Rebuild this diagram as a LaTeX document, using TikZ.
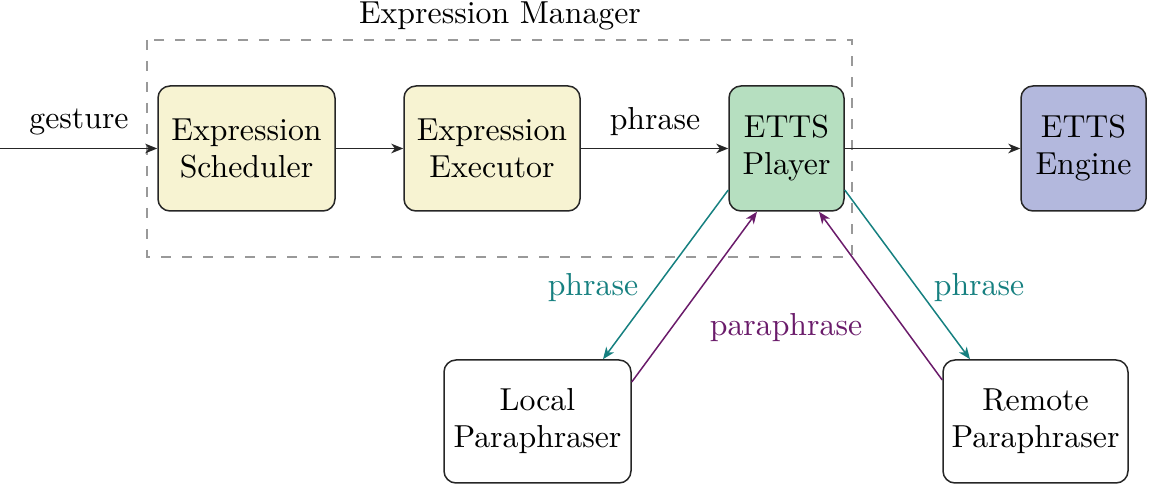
\documentclass[tikz,border=0pt]{standalone}
\usepackage{fontspec}
\setmainfont{lmroman10-regular.otf}
\usetikzlibrary{arrows.meta}
\definecolor{boxyellow}{HTML}{F7F3D2}
\definecolor{boxgreen}{HTML}{B6DFC0}
\definecolor{boxblue}{HTML}{B3B8DD}
\definecolor{tealc}{HTML}{168080}
\definecolor{purplec}{HTML}{6A1B6A}
\definecolor{dashgray}{HTML}{999999}
\tikzset{
  blk/.style={draw=black!85, line width=0.75pt, rounded corners=6pt, align=center, inner sep=0pt, minimum height=62.5pt},
  arr/.style={-{Stealth[length=6pt,width=4.8pt,inset=1.8pt]}, line width=0.75pt, draw=black!85},
  lbl/.style={inner sep=0pt},
}
\begin{document}
\begin{tikzpicture}[x=0.5pt,y=-0.5pt,font=\fontsize{15.9}{18.5}\selectfont]
\useasboundingbox (0,0) rectangle (1152,485);
\draw[dashgray, line width=0.6pt, dash pattern=on 5pt off 5.5pt] (147,40) rectangle (852,257);
\node[lbl, anchor=base] (mgr) at (500,23.5) {Expression Manager};

\node[blk, fill=boxyellow, minimum width=88.5pt] (sched) at (246.5,148.5) {Expression\\Scheduler};
\node[blk, fill=boxyellow, minimum width=88pt] (exec) at (492,148.5) {Expression\\Executor};
\node[blk, fill=boxgreen, minimum width=57.5pt] (player) at (786.5,148.5) {ETTS\\Player};
\node[blk, fill=boxblue, minimum width=62.5pt] (engine) at (1083.5,148.5) {ETTS\\Engine};
\node[blk, fill=white, minimum width=93.5pt, minimum height=61.5pt] (local) at (537.5,421.5) {Local\\Paraphraser};
\node[blk, fill=white, minimum width=92.5pt, minimum height=61.5pt] (remote) at (1035.5,421.5) {Remote\\Paraphraser};

\coordinate (in) at (0,148.5);
\draw[arr] (in) -- (sched.west);
\node[lbl] (gesture) at (79,122) {gesture};
\draw[arr] (sched.east) -- (exec.west);
\draw[arr] (exec.east) -- (player.west);
\node[lbl] (phr1) at (655,122) {phrase};
\draw[arr] (player.east) -- (engine.west);

\draw[arr, draw=tealc] ([yshift=-20.75pt]player.west) -- ([xshift=32.75pt]local.north);
\draw[arr, draw=tealc] ([yshift=-20.75pt]player.east) -- ([xshift=-32.75pt]remote.north);
\draw[arr, draw=purplec] ([yshift=19.75pt]local.east) -- ([xshift=-14.75pt]player.south);
\draw[arr, draw=purplec] ([yshift=20.75pt]remote.west) -- ([xshift=16.25pt]player.south);

\node[lbl, text=tealc] (phr2) at (593,288) {phrase};
\node[lbl, text=tealc] (phr3) at (979,288) {phrase};
\node[lbl, text=purplec] (para) at (786,328) {paraphrase};
\end{tikzpicture}
\end{document}
